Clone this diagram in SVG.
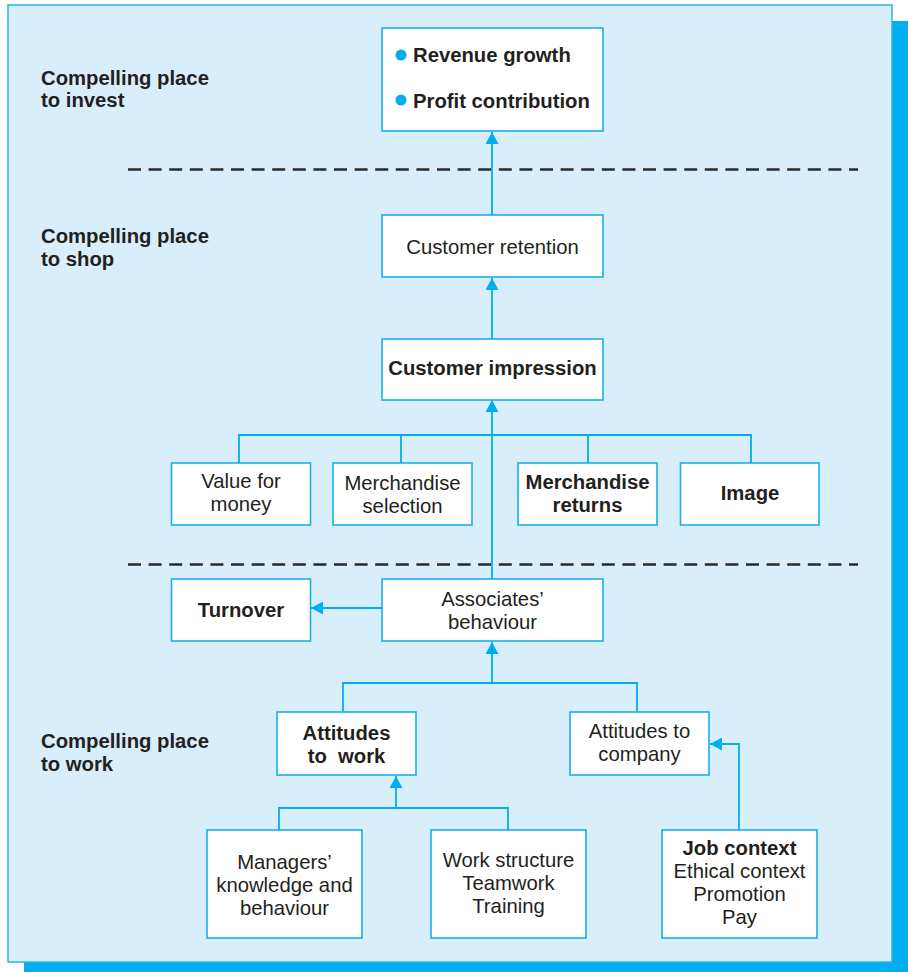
<svg xmlns="http://www.w3.org/2000/svg" width="908" height="972" viewBox="0 0 908 972">
  <style>
    .box { fill: #ffffff; stroke: #1aaeea; stroke-width: 1.6; }
    .t { font-family: "Liberation Sans", Arial, sans-serif; font-size: 20.3px; fill: #231f20; text-anchor: middle; }
    .b { font-weight: bold; }
    .lbl { font-family: "Liberation Sans", Arial, sans-serif; font-size: 20.3px; font-weight: bold; fill: #231f20; }
    .conn { fill: none; stroke: #00aeef; stroke-width: 1.8; }
    .arr { marker-end: url(#head); }
    .dash { stroke: #2a2a2a; stroke-width: 2.5; stroke-dasharray: 13 7.6; }
  </style>
  <defs>
    <marker id="head" markerUnits="userSpaceOnUse" viewBox="0 0 12 13" refX="12" refY="6.5" markerWidth="12" markerHeight="13" orient="auto">
      <path d="M0,0 L12,6.5 L0,13 z" fill="#00aeef"/>
    </marker>
  </defs>

  <!-- panel with offset shadow -->
  <rect x="24" y="21" width="884" height="951" fill="#00aeef"/>
  <rect x="8" y="5" width="884" height="957" fill="#d8effb" stroke="#2ab4ee" stroke-width="1.5"/>

  <!-- tier separators -->
  <line class="dash" x1="128" y1="169.5" x2="858" y2="169.5"/>
  <line class="dash" x1="128" y1="564.5" x2="858" y2="564.5"/>

  <!-- tier labels -->
  <g id="tier-invest">
    <text class="lbl" x="41" y="85">Compelling place</text>
    <text class="lbl" x="41" y="107">to invest</text>
  </g>
  <g id="tier-shop">
    <text class="lbl" x="41" y="243">Compelling place</text>
    <text class="lbl" x="41" y="266">to shop</text>
  </g>
  <g id="tier-work">
    <text class="lbl" x="41" y="748">Compelling place</text>
    <text class="lbl" x="41" y="771">to work</text>
  </g>

  <!-- connectors -->
  <g id="connectors">
    <line class="conn arr" x1="492" y1="215" x2="492" y2="132"/>
    <line class="conn arr" x1="492" y1="339" x2="492" y2="278"/>
    <line class="conn arr" x1="492" y1="579" x2="492" y2="400"/>
    <path class="conn" d="M239,463 V435 H751 V463 M401,435 V463 M588,435 V463"/>
    <line class="conn arr" x1="382" y1="608" x2="311" y2="608"/>
    <path class="conn" d="M343,712 V683 H637 V712"/>
    <line class="conn arr" x1="492" y1="683" x2="492" y2="642"/>
    <path class="conn" d="M279,830 V808 H508 V830"/>
    <line class="conn arr" x1="396" y1="808" x2="396" y2="776"/>
    <path class="conn arr" d="M739,830 V744 H710"/>
  </g>

  <!-- nodes -->
  <g id="outcomes">
    <rect class="box" x="382" y="28" width="221" height="103"/>
    <circle cx="401" cy="55" r="5.5" fill="#00aeef"/>
    <circle cx="401" cy="100" r="5.5" fill="#00aeef"/>
    <text class="t b" x="413" y="62" style="text-anchor:start">Revenue growth</text>
    <text class="t b" x="413" y="108" style="text-anchor:start">Profit contribution</text>
  </g>
  <g id="customer-retention">
    <rect class="box" x="382" y="215" width="221" height="62"/>
    <text class="t" x="492.5" y="254">Customer retention</text>
  </g>
  <g id="customer-impression">
    <rect class="box" x="382" y="339" width="221" height="61"/>
    <text class="t b" x="492.5" y="375">Customer impression</text>
  </g>
  <g id="value-for-money">
    <rect class="box" x="171.5" y="463" width="139" height="62"/>
    <text class="t" x="241" y="488">Value for</text>
    <text class="t" x="241" y="511">money</text>
  </g>
  <g id="merchandise-selection">
    <rect class="box" x="333" y="463" width="139" height="62"/>
    <text class="t" x="402.5" y="490">Merchandise</text>
    <text class="t" x="402.5" y="513">selection</text>
  </g>
  <g id="merchandise-returns">
    <rect class="box" x="518" y="463" width="139" height="62"/>
    <text class="t b" x="587.5" y="489">Merchandise</text>
    <text class="t b" x="587.5" y="512">returns</text>
  </g>
  <g id="image">
    <rect class="box" x="680.5" y="463" width="138.5" height="62"/>
    <text class="t b" x="750" y="500">Image</text>
  </g>
  <g id="turnover">
    <rect class="box" x="171.5" y="579" width="139" height="62"/>
    <text class="t b" x="241" y="617">Turnover</text>
  </g>
  <g id="associates-behaviour">
    <rect class="box" x="382" y="579" width="221" height="62"/>
    <text class="t" x="492.5" y="606">Associates’</text>
    <text class="t" x="492.5" y="629">behaviour</text>
  </g>
  <g id="attitudes-to-work">
    <rect class="box" x="277" y="712" width="139" height="63"/>
    <text class="t b" x="346.5" y="740">Attitudes</text>
    <text class="t b" x="346.5" y="763" xml:space="preserve">to  work</text>
  </g>
  <g id="attitudes-to-company">
    <rect class="box" x="570" y="712" width="139" height="63"/>
    <text class="t" x="639.5" y="738">Attitudes to</text>
    <text class="t" x="639.5" y="761">company</text>
  </g>
  <g id="managers">
    <rect class="box" x="207" y="830" width="155" height="108"/>
    <text class="t" x="284.5" y="869">Managers’</text>
    <text class="t" x="284.5" y="892">knowledge and</text>
    <text class="t" x="284.5" y="915">behaviour</text>
  </g>
  <g id="work-structure">
    <rect class="box" x="431" y="830" width="155" height="108"/>
    <text class="t" x="508.5" y="867">Work structure</text>
    <text class="t" x="508.5" y="890">Teamwork</text>
    <text class="t" x="508.5" y="913">Training</text>
  </g>
  <g id="job-context">
    <rect class="box" x="662" y="830" width="155" height="108"/>
    <text class="t b" x="739.5" y="855">Job context</text>
    <text class="t" x="739.5" y="878">Ethical context</text>
    <text class="t" x="739.5" y="901">Promotion</text>
    <text class="t" x="739.5" y="924">Pay</text>
  </g>
</svg>
